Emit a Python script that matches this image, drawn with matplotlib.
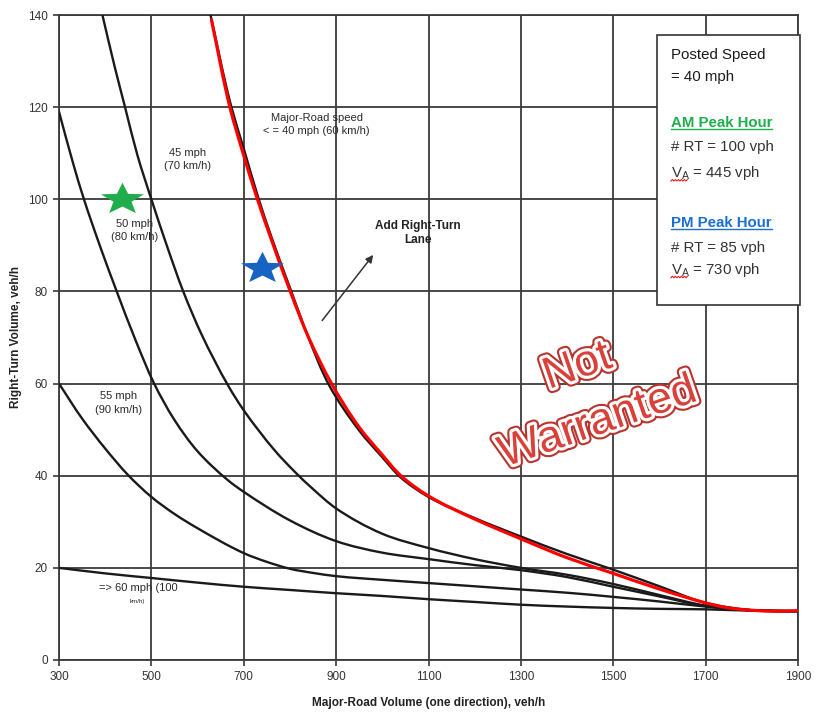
import numpy as np
import matplotlib
matplotlib.use("Agg")
import matplotlib.pyplot as plt
import matplotlib.patheffects as pe
from matplotlib.lines import Line2D
from matplotlib.patches import Rectangle, PathPatch
from matplotlib.path import Path

plt.rcParams['font.family'] = ['Liberation Sans', 'DejaVu Sans']

# warrant curves (major-road volume, right-turn volume)
x_40 = [628, 672, 700, 731, 760, 800, 840, 885, 950, 1000, 1040, 1100, 1200, 1300, 1400, 1500, 1600, 1700, 1800, 1850, 1900]
y_40 = [140, 120.5, 111, 100.5, 91.8, 80.8, 70, 59.6, 49.8, 44, 39.6, 35.4, 30.8, 26.8, 23.0, 19.6, 16.0, 12.4, 10.8, 10.6, 10.6]

x_40red = [630, 670, 700, 729, 760, 800, 840, 890, 950, 1000, 1040, 1100, 1200, 1300, 1400, 1500, 1600, 1700, 1750, 1800, 1850, 1900]
y_40red = [139, 120, 109.5, 100.2, 91.2, 80.2, 70.1, 60, 50.5, 44.5, 40, 35.6, 30.6, 26.3, 22.2, 18.8, 15.4, 12.4, 11.3, 10.8, 10.6, 10.7]

x_45 = [394, 420, 443, 470, 500, 535, 569, 609, 666, 700, 767, 811, 850, 900, 1000, 1100, 1200, 1300, 1400, 1500, 1600, 1700, 1800, 1900]
y_45 = [140, 129, 120, 109.5, 100, 89.5, 80, 70.6, 59.6, 54.2, 45.5, 40.8, 37.1, 32.9, 27.4, 24.3, 21.9, 20.0, 18.5, 16.5, 14.1, 11.8, 10.8, 10.6]

x_50 = [300, 330, 354, 390, 425, 465, 506, 550, 600, 666, 700, 800, 900, 1000, 1100, 1200, 1300, 1400, 1500, 1600, 1700, 1800, 1900]
y_50 = [119, 108, 100, 89.5, 80, 69.6, 60, 52.1, 45.3, 39.0, 36.5, 30.3, 25.8, 23.3, 21.9, 20.6, 19.5, 18.0, 15.9, 13.8, 11.7, 10.8, 10.6]

x_55 = [300, 350, 400, 450, 500, 550, 600, 700, 750, 800, 850, 900, 1000, 1100, 1200, 1300, 1400, 1500, 1600, 1700, 1800, 1900]
y_55 = [60, 52.4, 45.9, 40.1, 35.4, 31.7, 28.6, 23.2, 21.3, 19.8, 18.9, 18.2, 17.4, 16.7, 16.0, 15.3, 14.6, 13.7, 12.7, 11.6, 10.8, 10.6]

x_60 = [300, 400, 500, 600, 700, 800, 900, 1000, 1100, 1200, 1300, 1400, 1500, 1600, 1700, 1800, 1900]
y_60 = [20.0, 18.8, 17.8, 16.8, 15.9, 15.2, 14.5, 13.9, 13.2, 12.6, 12.0, 11.6, 11.3, 11.1, 11.0, 10.7, 10.6]

# study intersection (AM / PM peak)
am_point = (437, 100)
pm_point = (740, 85)

x_ticks = [300, 500, 700, 900, 1100, 1300, 1500, 1700, 1900]
y_ticks = [0, 20, 40, 60, 80, 100, 120, 140]

# rough pixels per data unit, only used to shape the bezier handles
SX, SY = 739 / 1600, 645 / 140


def smooth_curve(xs, ys):
    # join the read points with hermite-style bezier segments
    p = np.column_stack([np.asarray(xs, float) * SX, np.asarray(ys, float) * SY])
    d = np.diff(p, axis=0)
    L = np.hypot(d[:, 0], d[:, 1])
    u = d / L[:, None]
    t = np.empty_like(p)
    t[0], t[-1] = u[0], u[-1]
    t[1:-1] = u[:-1] + u[1:]
    t /= np.hypot(t[:, 0], t[:, 1])[:, None]
    verts = [p[0]]
    codes = [Path.MOVETO]
    for i in range(len(p) - 1):
        verts += [p[i] + t[i] * L[i] / 3, p[i + 1] - t[i + 1] * L[i] / 3, p[i + 1]]
        codes += [Path.CURVE4] * 3
    verts = np.array(verts) / [SX, SY]
    return Path(verts, codes)


def star_marker(squash=0.74, inner=0.42):
    ang = np.pi / 2 + np.arange(10) * np.pi / 5
    r = np.where(np.arange(10) % 2 == 0, 1.0, inner)
    v = np.column_stack([r * np.cos(ang), r * np.sin(ang) * squash])
    v = np.vstack([v, v[0]])
    return Path(v, [Path.MOVETO] + [Path.LINETO] * 9 + [Path.CLOSEPOLY])


fig = plt.figure(figsize=(8.17, 7.13), dpi=100)
ax = fig.add_axes([59 / 817, 53 / 713, 739 / 817, 645 / 713])

grid_c = '#3a3a3a'
ax.set_xlim(300, 1900)
ax.set_ylim(0, 140)
ax.set_xticks(x_ticks)
ax.set_yticks(y_ticks)
ax.grid(True, color=grid_c, linewidth=1.3, zorder=0)
ax.set_axisbelow(True)
for s in ax.spines.values():
    s.set_color(grid_c)
    s.set_linewidth(1.3)
ax.tick_params(direction='out', length=4, width=1.2, color=grid_c,
               labelsize=8.5, labelcolor='#333333', pad=4)

for xs, ys in [(x_60, y_60), (x_55, y_55), (x_50, y_50), (x_45, y_45), (x_40, y_40)]:
    ax.add_patch(PathPatch(smooth_curve(xs, ys), fill=False, edgecolor='#1a1a1a',
                           linewidth=1.7, zorder=3, capstyle='round'))
ax.add_patch(PathPatch(smooth_curve(x_40red, y_40red), fill=False, edgecolor='#ff0000',
                       linewidth=2.3, zorder=4, capstyle='round'))

star = star_marker()
ax.plot(*am_point, marker=star, markersize=31, color='#1fae4b', markeredgewidth=0, zorder=5)
ax.plot(*pm_point, marker=star, markersize=31, color='#1763c4', markeredgewidth=0, zorder=5)

# curve labels
lab_kw = dict(fontsize=8, color='#2a2a2a', ha='center', va='center', linespacing=1.45, zorder=6)
ax.text(858, 116.2, 'Major-Road speed\n< = 40 mph (60 km/h)', **lab_kw)
ax.text(579, 108.6, '45 mph\n(70 km/h)', **lab_kw)
ax.text(464, 93.2, '50 mph\n(80 km/h)', **lab_kw)
ax.text(430, 55.8, '55 mph\n(90 km/h)', **lab_kw)
ax.text(471, 15.6, '=> 60 mph (100', fontsize=8, color='#2a2a2a', ha='center', va='center', zorder=6)
ax.text(470, 12.6, 'km/h)', fontsize=4.5, color='#2a2a2a', ha='center', va='center', zorder=6)

ax.text(1077, 92.7, 'Add Right-Turn\nLane', fontsize=8.5, fontweight='bold', color='#222222',
        ha='center', va='center', linespacing=1.25, zorder=6)
ax.annotate('', xy=(984, 88.4), xytext=(866, 73.2),
            arrowprops=dict(arrowstyle='-|>', color='#333333', lw=1.1, mutation_scale=11), zorder=6)

# "Not Warranted" stamp
stamp_fx = [pe.Stroke(linewidth=7.5, foreground='#b8352f'),
            pe.Stroke(linewidth=4.5, foreground='white'), pe.Normal()]
ax.text(1423, 63.6, 'Not', fontsize=32, color='#d9413b', rotation=19, rotation_mode='anchor',
        ha='center', va='center', path_effects=stamp_fx, zorder=7)
ax.text(1467, 51.5, 'Warranted', fontsize=32, color='#d9413b', rotation=19, rotation_mode='anchor',
        ha='center', va='center', path_effects=stamp_fx, zorder=7)

ax.set_xlabel('Major-Road Volume (one direction), veh/h', fontsize=8.5, fontweight='bold', color='#222222')
ax.set_ylabel('Right-Turn Volume, veh/h', fontsize=8.5, fontweight='bold', color='#222222')
ax.xaxis.set_label_coords(0.5, -0.057)
ax.yaxis.set_label_coords(-0.050, 0.5)

# info box
box = Rectangle((0.809, 0.550), 0.194, 0.419, transform=ax.transAxes, facecolor='white',
                edgecolor='#333333', linewidth=1.2, zorder=8, clip_on=False)
ax.add_patch(box)
tx = 0.828
box_lines = [
    ('Posted Speed', 0.938, '#1a1a1a', 'normal'),
    ('= 40 mph', 0.904, '#1a1a1a', 'normal'),
    ('AM Peak Hour', 0.833, '#1fae4b', 'bold'),
    ('# RT = 100 vph', 0.795, '#333333', 'normal'),
    ('$\\mathregular{V_A}$ = 445 vph', 0.755, '#333333', 'normal'),
    ('PM Peak Hour', 0.678, '#1a6fd0', 'bold'),
    ('# RT = 85 vph', 0.639, '#333333', 'normal'),
    ('$\\mathregular{V_A}$ = 730 vph', 0.605, '#333333', 'normal'),
]
texts = []
for s, y, c, w in box_lines:
    t = ax.text(tx, y, s, transform=ax.transAxes, fontsize=10.8, color=c, fontweight=w,
                ha='left', va='center', zorder=9)
    texts.append((t, s, c))

fig.canvas.draw()
inv = fig.transFigure.inverted()
for t, s, c in texts:
    bb = t.get_window_extent()
    if 'Peak' in s:
        (x0, y0), (x1, _) = inv.transform([(bb.x0, bb.y0 + 1), (bb.x1, bb.y0 + 1)])
        fig.add_artist(Line2D([x0, x1], [y0, y0], color=c, linewidth=1.0, zorder=10))
    elif 'V' in s:
        zx = bb.x0 + np.arange(0, 18, 1.5)
        zy = bb.y0 + 1 + np.where(np.arange(len(zx)) % 2 == 0, 0.0, 1.5)
        pts = inv.transform(np.column_stack([zx, zy]))
        fig.add_artist(Line2D(pts[:, 0], pts[:, 1], color='#e02020', linewidth=0.8, zorder=10))

fig.savefig('out.png', dpi=100)
